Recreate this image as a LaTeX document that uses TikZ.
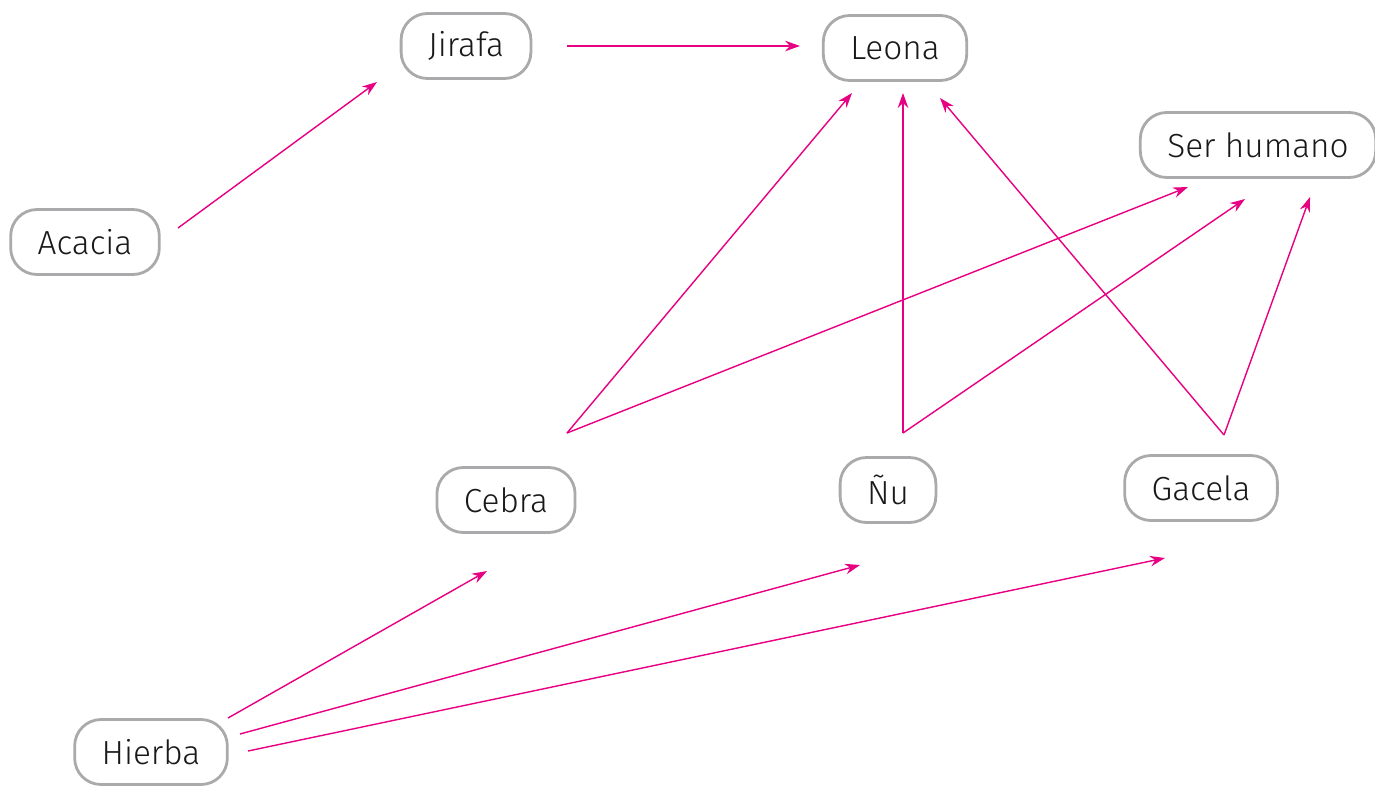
\documentclass[tikz,border=0pt]{standalone}
\usepackage{fontspec}
\setmainfont{Fira Sans Light}
\usetikzlibrary{arrows.meta}
\definecolor{rosa}{RGB}{232,0,130}
\definecolor{borde}{RGB}{170,170,172}
\begin{document}
\begin{tikzpicture}[x=0.02cm, y=-0.02cm, >={Stealth[length=8.5pt,width=6pt]},
    ser/.style={draw=borde, line width=1.6pt, rounded corners=15pt, minimum height=1.3cm,
        inner xsep=0.54cm, font=\fontsize{19}{22}\selectfont, text=black!90},
    flecha/.style={->, draw=rosa, fill=rosa, line width=0.8pt}]
\useasboundingbox (0,0) rectangle (1375,785);

\node[ser] (jirafa) at (466,46){Jirafa};
\node[ser] (leona) at (895,48){Leona};
\node[ser] (humano) at (1258,145){Ser humano};
\node[ser] (acacia) at (85,242){Acacia};
\node[ser] (cebra) at (506,500){Cebra};
\node[ser] (nu) at (888,490){Ñu};
\node[ser] (gacela) at (1201,488){Gacela};
\node[ser] (hierba) at (151,752){Hierba};

% extremos de las flechas
\coordinate (acacia-s) at (178,228);
\coordinate (jirafa-e) at (377,82);
\coordinate (jirafa-s) at (567,46);
\coordinate (leona-e1) at (800,46);
\coordinate (leona-e2) at (852,93);
\coordinate (leona-e3) at (903,93);
\coordinate (leona-e4) at (940,98);
\coordinate (humano-e1) at (1188,187);
\coordinate (humano-e2) at (1245,199);
\coordinate (humano-e3) at (1310,197);
\coordinate (cebra-s) at (567,433);
\coordinate (nu-s) at (903,433);
\coordinate (gacela-s) at (1224,435);
\coordinate (cebra-e) at (487,571);
\coordinate (nu-e) at (860,565);
\coordinate (gacela-e) at (1165,558);
\coordinate (hierba-s1) at (228,718);
\coordinate (hierba-s2) at (240,734);
\coordinate (hierba-s3) at (248,751);

\draw[flecha](acacia-s)--(jirafa-e);
\draw[flecha](jirafa-s)--(leona-e1);
\draw[flecha](cebra-s)--(leona-e2);
\draw[flecha](cebra-s)--(humano-e1);
\draw[flecha](nu-s)--(leona-e3);
\draw[flecha](nu-s)--(humano-e2);
\draw[flecha](gacela-s)--(leona-e4);
\draw[flecha](gacela-s)--(humano-e3);
\draw[flecha](hierba-s1)--(cebra-e);
\draw[flecha](hierba-s2)--(nu-e);
\draw[flecha](hierba-s3)--(gacela-e);

\end{tikzpicture}
\end{document}
